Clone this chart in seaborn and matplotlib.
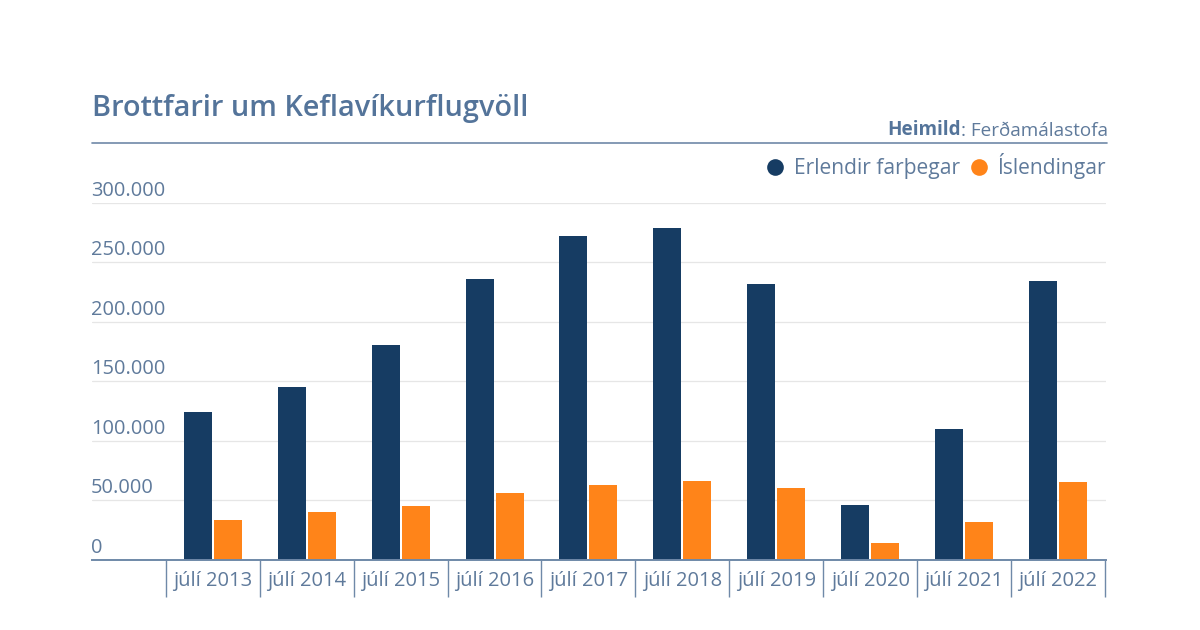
import matplotlib
matplotlib.use("Agg")
import matplotlib.pyplot as plt
from matplotlib.lines import Line2D
from matplotlib.transforms import ScaledTranslation
import pandas as pd
import seaborn as sns

# Data
months = ["júlí 2013", "júlí 2014", "júlí 2015", "júlí 2016", "júlí 2017",
          "júlí 2018", "júlí 2019", "júlí 2020", "júlí 2021", "júlí 2022"]
foreign = [124000, 145000, 180500, 236000, 272000, 279000, 232000, 46000, 110000, 234000]
icelanders = [33500, 40000, 45000, 56000, 63000, 66500, 60500, 14000, 32000, 65500]
series_names = ["Erlendir farþegar", "Íslendingar"]
y_ticks = [0, 50000, 100000, 150000, 200000, 250000, 300000]
y_labels = ["0", "50.000", "100.000", "150.000", "200.000", "250.000", "300.000"]

DARK = "#163c63"
ORANGE = "#ff8419"
TEXT = "#5f7a9b"
TITLE = "#54749a"
RULE = "#6f89a8"

sns.set_theme(style="white")
plt.rcParams["font.family"] = ["Open Sans", "DejaVu Sans"]

W, H = 1200, 630
fig = plt.figure(figsize=(12, 6.3), dpi=100)
ax = fig.add_axes([92 / W, (H - 560) / H, (1106 - 92) / W, 357.5 / H])

df = pd.DataFrame({"month": months, series_names[0]: foreign, series_names[1]: icelanders})
df = df.melt(id_vars="month", var_name="series", value_name="value")

sns.barplot(data=df, x="month", y="value", hue="series", hue_order=series_names,
            palette=[DARK, ORANGE], width=0.639, gap=0.067, saturation=1,
            edgecolor="none", linewidth=0, legend=False, ax=ax, zorder=3)

# slot is 93.9px wide, first centre at x=212.8
ax.set_xlim(-1.287, 9.512)
ax.set_ylim(0, 300000)
ax.set_xlabel("")
ax.set_ylabel("")

for s in ["top", "left", "right"]:
    ax.spines[s].set_visible(False)
ax.spines["bottom"].set_color(RULE)
ax.spines["bottom"].set_linewidth(1.4)
ax.spines["bottom"].set_zorder(5)

ax.set_yticks(y_ticks)
ax.set_yticklabels(y_labels)
ax.yaxis.grid(True, color="#e6e6e6", linewidth=0.9, zorder=0)
ax.set_axisbelow(True)
ax.tick_params(axis="y", length=0, pad=0.7, labelsize=14.4, labelcolor=TEXT)
offset = ScaledTranslation(0, 2 / 100, fig.dpi_scale_trans)
for lab in ax.get_yticklabels():
    lab.set_ha("left")
    lab.set_va("bottom")
    lab.set_transform(lab.get_transform() + offset)

# separators between the months
ax.set_xticks([i - 0.5 for i in range(len(months) + 1)], minor=True)
ax.tick_params(axis="x", which="minor", bottom=True, length=26.5, width=1, color=RULE)
ax.tick_params(axis="x", which="major", bottom=False, length=0, pad=8, labelsize=14.5, labelcolor=TEXT)

# title and source
fig.text(91.5 / W, 1 - 116 / H, "Brottfarir um Keflavíkurflugvöll", fontsize=20.8,
         fontweight="semibold", color=TITLE, va="baseline")
src = fig.text(1108 / W, 1 - 136 / H, ": Ferðamálastofa", fontsize=13.6,
               color=TEXT, ha="right", va="baseline")
ax.annotate("Heimild", xy=(0, 0), xycoords=src, ha="right", va="bottom", fontsize=13.6,
            fontweight="bold", color=TITLE, annotation_clip=False)
fig.add_artist(Line2D([92 / W, 1107 / W], [1 - 143 / H, 1 - 143 / H], color=RULE, linewidth=1.2))

handles = [Line2D([], [], linestyle="none", marker="o", markersize=12, color=c, markeredgewidth=0)
           for c in [DARK, ORANGE]]
fig.legend(handles, series_names, loc="upper right", bbox_to_anchor=(1106 / W, 1 - 153 / H),
           ncol=2, frameon=False, fontsize=15.1, labelcolor=TEXT, borderpad=0, borderaxespad=0,
           handletextpad=0.3, columnspacing=0.3, handlelength=1.2)

fig.savefig("out.png", dpi=100)
